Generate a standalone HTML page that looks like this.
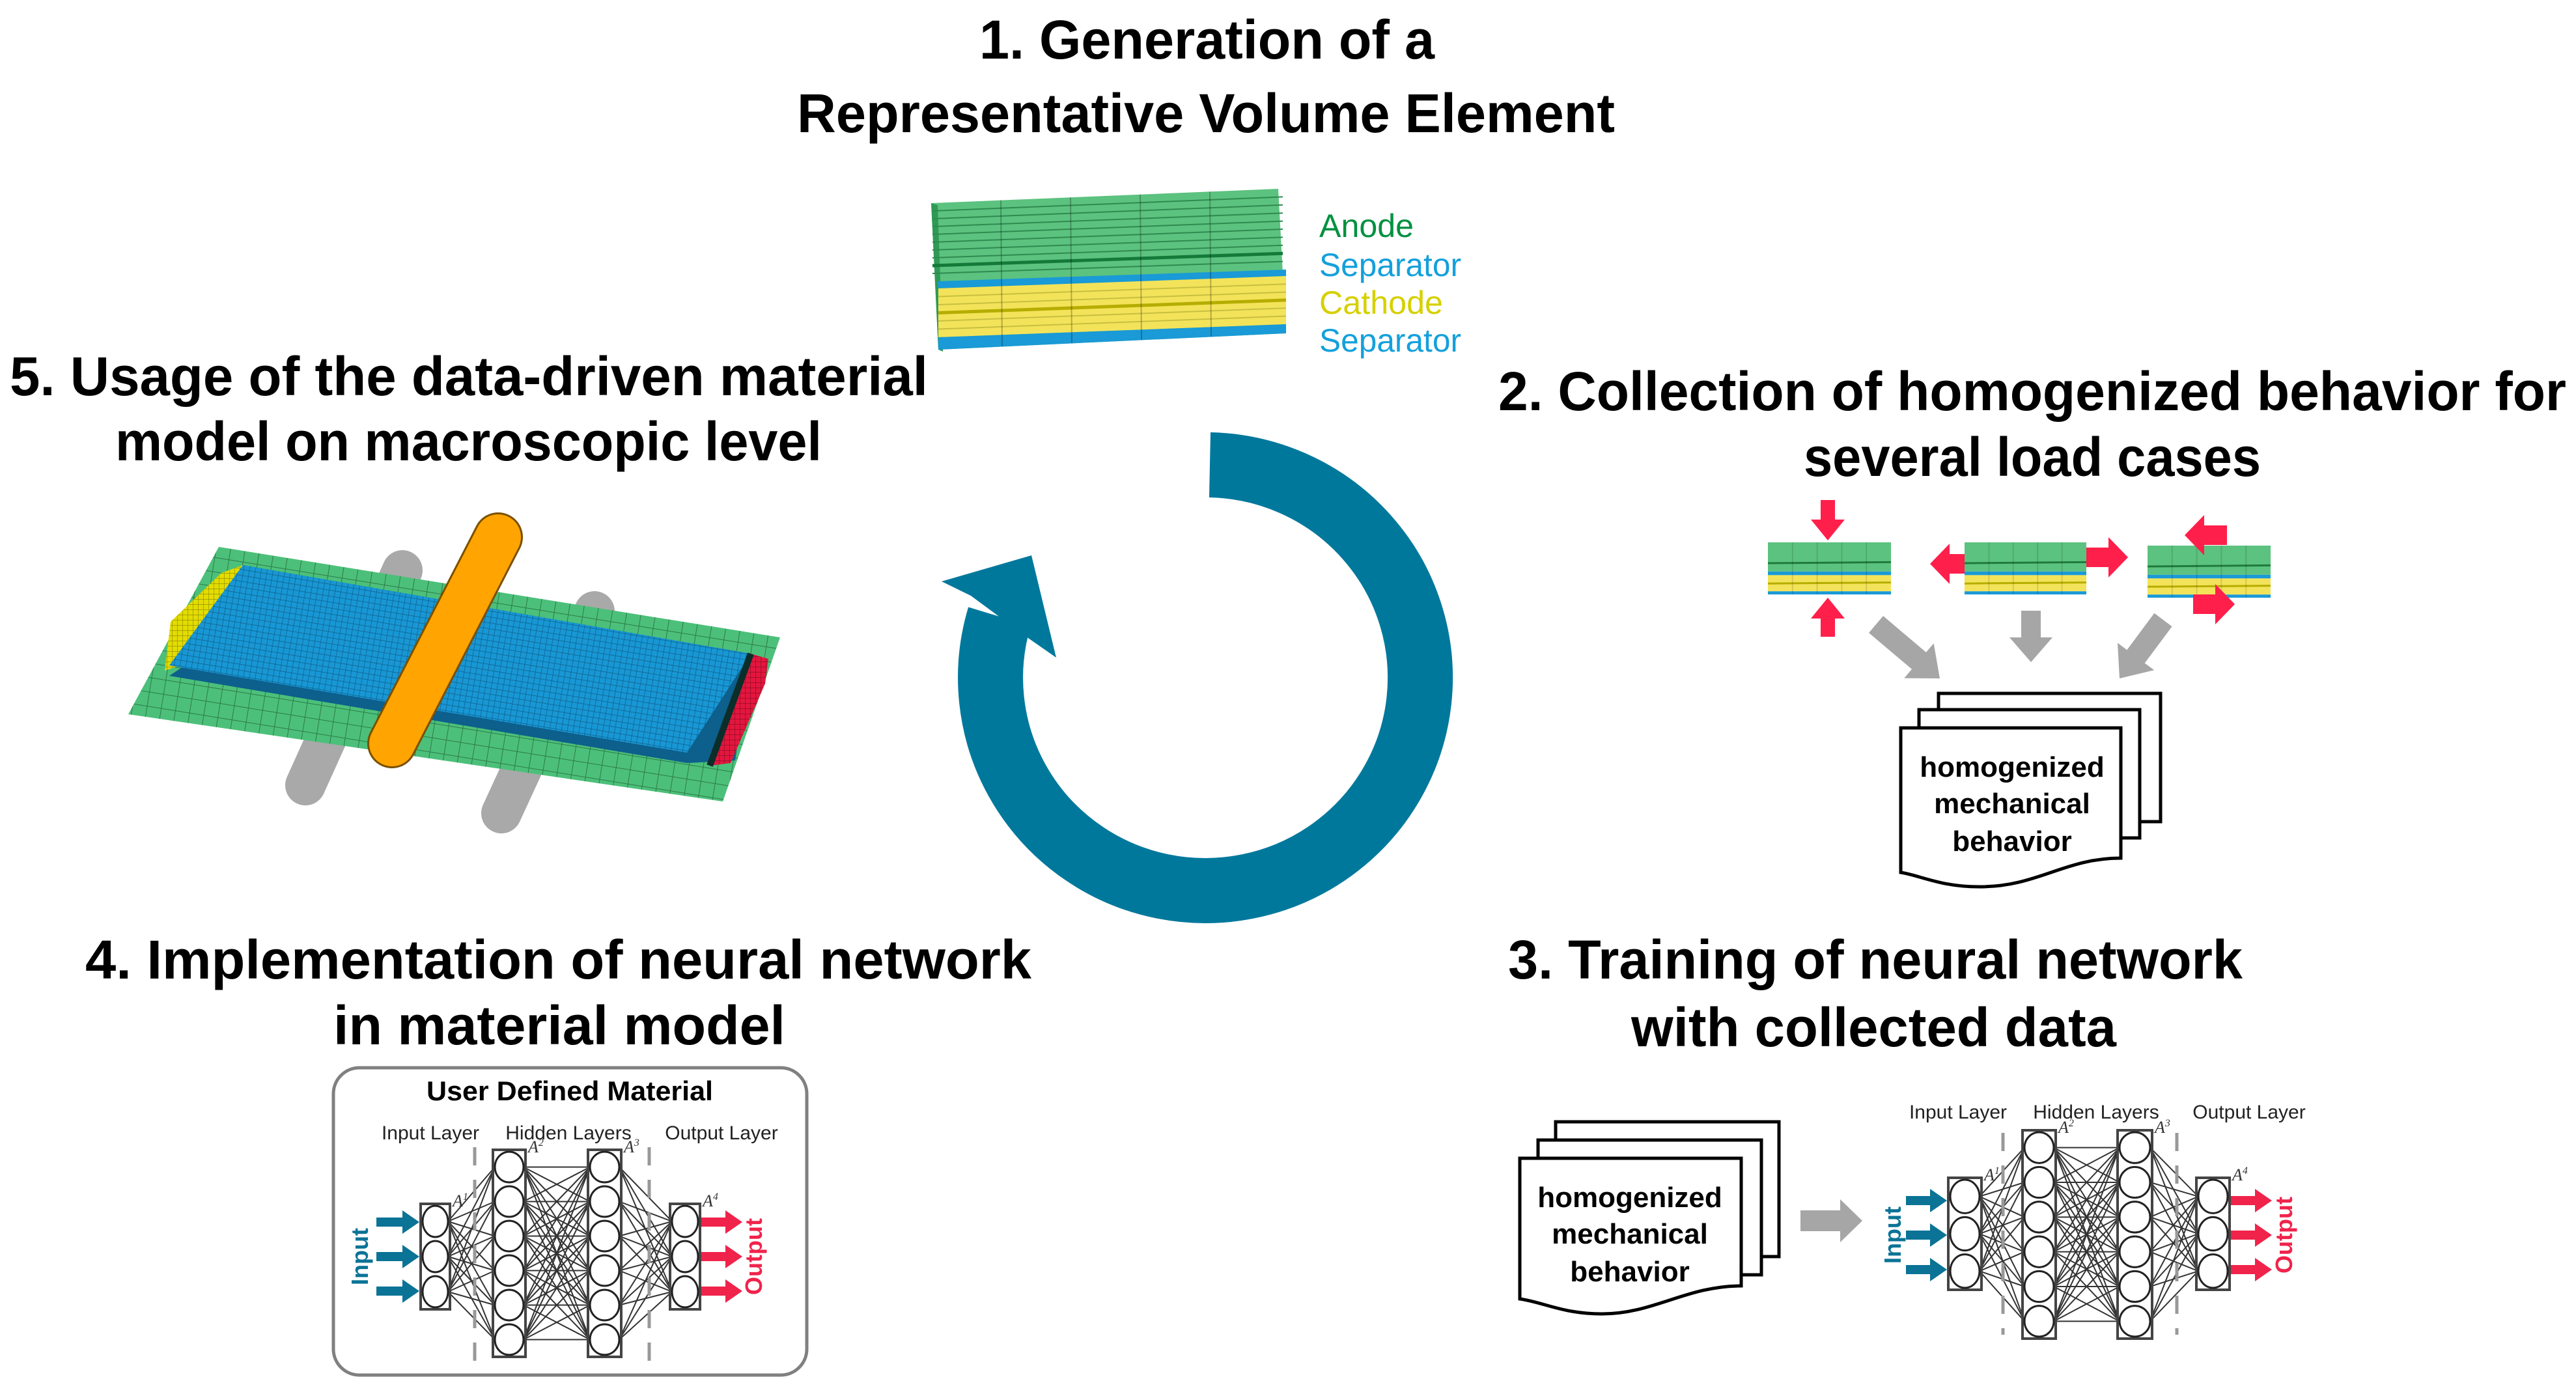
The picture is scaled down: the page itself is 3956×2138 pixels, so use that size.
<!DOCTYPE html>
<html><head><meta charset="utf-8">
<style>
html,body{margin:0;padding:0;background:#fff;}
svg{display:block;}
.t{font-family:"Liberation Sans",sans-serif;font-weight:bold;}
.s{font-family:"Liberation Sans",sans-serif;}
</style></head>
<body>
<svg id="root" width="3956" height="2138" viewBox="0 0 3956 2138" xmlns="http://www.w3.org/2000/svg">
<defs>
  <pattern id="gmesh" width="22" height="22" patternUnits="userSpaceOnUse" patternTransform="rotate(9.2)">
    <rect width="22" height="22" fill="#4cc07a"/>
    <path d="M0 0H22M0 0V22" stroke="#2d7a48" stroke-width="2"/>
  </pattern>
  <pattern id="bmesh" width="9" height="9" patternUnits="userSpaceOnUse" patternTransform="rotate(9.5)">
    <rect width="9" height="9" fill="#1897d4"/>
    <path d="M0 0H9M0 0V9" stroke="#0d5f8c" stroke-width="1.4"/>
  </pattern>
  <pattern id="ymesh" width="8" height="8" patternUnits="userSpaceOnUse">
    <rect width="8" height="8" fill="#e3dc00"/>
    <path d="M0 0H8M0 0V8" stroke="#8c8700" stroke-width="1.2"/>
  </pattern>
  <pattern id="rmesh" width="8" height="8" patternUnits="userSpaceOnUse">
    <rect width="8" height="8" fill="#e3163e"/>
    <path d="M0 0H8M0 0V8" stroke="#8a0a22" stroke-width="1.2"/>
  </pattern>
</defs>

<!-- Titles -->
<g class="t" fill="#000">
<text x="1504" y="90" font-size="84" textLength="699" lengthAdjust="spacingAndGlyphs">1. Generation of a</text>
<text x="1224" y="203" font-size="84" textLength="1256" lengthAdjust="spacingAndGlyphs">Representative Volume Element</text>
<text x="15" y="607" font-size="84" textLength="1410" lengthAdjust="spacingAndGlyphs">5. Usage of the data-driven material</text>
<text x="177" y="707" font-size="84" textLength="1085" lengthAdjust="spacingAndGlyphs">model on macroscopic level</text>
<text x="2301" y="630" font-size="84" textLength="1640" lengthAdjust="spacingAndGlyphs">2. Collection of homogenized behavior for</text>
<text x="2770" y="731" font-size="84" textLength="702" lengthAdjust="spacingAndGlyphs">several load cases</text>
<text x="131" y="1503" font-size="84" textLength="1453" lengthAdjust="spacingAndGlyphs">4. Implementation of neural network</text>
<text x="512" y="1604" font-size="84" textLength="694" lengthAdjust="spacingAndGlyphs">in material model</text>
<text x="2316" y="1503" font-size="84" textLength="1128" lengthAdjust="spacingAndGlyphs">3. Training of neural network</text>
<text x="2505" y="1607" font-size="84" textLength="745" lengthAdjust="spacingAndGlyphs">with collected data</text>
</g>

<!-- RVE block -->
<g id="rve">
  <polygon points="1430,312 1963,290 1975,512 1441,537" fill="#5cc27f"/>
  <polygon points="1430,312 1441,537 1448,540 1440,315" fill="#2f9a55"/>
  <polygon points="1440,432 1975,414 1975,424 1441,443" fill="#1a9ad6"/>
  <polygon points="1441,443 1975,424 1975,498 1441,518" fill="#f3e35a"/>
  <polygon points="1441,518 1975,498 1975,512 1441,537" fill="#1a9ad6"/>
</g>
<g id="rvelines"></g>
<text class="s" x="2026" y="364" font-size="50" fill="#009140" textLength="145" lengthAdjust="spacingAndGlyphs">Anode</text>
<text class="s" x="2026" y="424" font-size="50" fill="#14a0dc" textLength="218" lengthAdjust="spacingAndGlyphs">Separator</text>
<text class="s" x="2026" y="482" font-size="50" fill="#d6d000" textLength="190" lengthAdjust="spacingAndGlyphs">Cathode</text>
<text class="s" x="2026" y="540" font-size="50" fill="#14a0dc" textLength="218" lengthAdjust="spacingAndGlyphs">Separator</text>

<!-- Cycle arrow -->
<path d="M1858,714 A330,327 0 1 1 1535,947" fill="none" stroke="#00789c" stroke-width="100"/>
<polygon points="1446,893 1584,853 1622,1010 1579,980 1491,915" fill="#00789c"/>

<!-- Macro model -->
<g id="macro">
  <line x1="618" y1="876" x2="469" y2="1206" stroke="#a9a9a9" stroke-width="62" stroke-linecap="round"/>
  <line x1="913" y1="939" x2="770" y2="1249" stroke="#a9a9a9" stroke-width="62" stroke-linecap="round"/>
  <polygon points="336,840 1198,979 1110,1231 197,1097" fill="url(#gmesh)"/>
  <polygon points="340,880 373,868 290,1018 253,1030 262,955" fill="url(#ymesh)"/>
  <polygon points="373,868 1153,1004 1129,1168 1055,1172 260,1038 290,1018" fill="#0d5f8c"/>
  <polygon points="373,868 1153,1004 1055,1156 260,1022" fill="url(#bmesh)"/>
  <polygon points="1153,1004 1180,1012 1175,1050 1122,1172 1090,1176" fill="url(#rmesh)"/>
  <line x1="1153" y1="1004" x2="1090" y2="1176" stroke="#0b2e2a" stroke-width="10"/>
  <line x1="765" y1="825" x2="602" y2="1142" stroke="#7a5000" stroke-width="76" stroke-linecap="round"/>
  <line x1="765" y1="825" x2="602" y2="1142" stroke="#ffa400" stroke-width="70" stroke-linecap="round"/>
</g>

<!-- Load case blocks -->
<g id="loads"></g>

<!-- Document stacks -->
<g stroke="#000" stroke-width="5" fill="#fff">
  <rect x="2977" y="1065" width="341" height="197"/>
  <rect x="2947" y="1090" width="339" height="197"/>
  <path d="M2919,1118 H3257 V1318 C3170,1318 3130,1362 3040,1362 C2980,1362 2950,1345 2919,1340 Z"/>
  <rect x="2389" y="1723" width="343" height="207"/>
  <rect x="2362" y="1751" width="343" height="207"/>
  <path d="M2334,1779 H2674 V1975 C2590,1975 2540,2018 2460,2018 C2400,2018 2370,2000 2334,1995 Z"/>
</g>
<g class="t" fill="#000" font-size="44" text-anchor="middle">
  <text x="3090" y="1193">homogenized</text>
  <text x="3090" y="1249">mechanical</text>
  <text x="3090" y="1307">behavior</text>
  <text x="2503" y="1854">homogenized</text>
  <text x="2503" y="1910">mechanical</text>
  <text x="2503" y="1968">behavior</text>
</g>

<!-- UDM box -->
<rect x="512" y="1640" width="727" height="472" rx="40" fill="none" stroke="#808080" stroke-width="5"/>
<text class="t" fill="#000" x="875" y="1690" font-size="42" text-anchor="middle" textLength="440" lengthAdjust="spacingAndGlyphs">User Defined Material</text>
<g class="s" font-size="30" fill="#222" text-anchor="middle">
  <text x="661" y="1750">Input Layer</text>
  <text x="873" y="1750">Hidden Layers</text>
  <text x="1108" y="1750">Output Layer</text>
  <text x="3007" y="1718">Input Layer</text>
  <text x="3219" y="1718">Hidden Layers</text>
  <text x="3454" y="1718">Output Layer</text>
</g>
<text class="t" font-size="36" style="fill:#0a7396" transform="translate(565,1930) rotate(-90)" text-anchor="middle">Input</text>
<text class="t" font-size="36" style="fill:#f0234b" transform="translate(1170,1930) rotate(-90)" text-anchor="middle">Output</text>
<text class="t" font-size="36" style="fill:#0a7396" transform="translate(2919,1897) rotate(-90)" text-anchor="middle">Input</text>
<text class="t" font-size="36" style="fill:#f0234b" transform="translate(3520,1897) rotate(-90)" text-anchor="middle">Output</text>
<g id="nets"></g>
</svg>
<script>
var NS="http://www.w3.org/2000/svg";
function el(p,t,a){var e=document.createElementNS(NS,t);for(var k in a)e.setAttribute(k,a[k]);p.appendChild(e);return e;}
function arrow(p,x1,y1,x2,y2,sw,hw,hl,c){
  var dx=x2-x1,dy=y2-y1,L=Math.hypot(dx,dy),ux=dx/L,uy=dy/L,nx=-uy,ny=ux;
  var bx=x2-ux*hl,by=y2-uy*hl;
  var pts=[[x1+nx*sw/2,y1+ny*sw/2],[bx+nx*sw/2,by+ny*sw/2],[bx+nx*hw/2,by+ny*hw/2],[x2,y2],[bx-nx*hw/2,by-ny*hw/2],[bx-nx*sw/2,by-ny*sw/2],[x1-nx*sw/2,y1-ny*sw/2]];
  el(p,"polygon",{points:pts.map(function(q){return q[0].toFixed(1)+","+q[1].toFixed(1)}).join(" "),fill:c});
}
// RVE stripes
var rl=document.getElementById("rvelines");
for(var i=1;i<10;i++){var yl=312+i*12,yr=290+i*12.4;el(rl,"line",{x1:1432,y1:yl,x2:1970,y2:yr,stroke:i==8?"#137a3a":"#2f8a50","stroke-width":i==8?5:2});}
for(var i=1;i<6;i++){var yl=443+i*12.5,yr=424+i*12.3;el(rl,"line",{x1:1441,y1:yl,x2:1975,y2:yr,stroke:i==3?"#b5ad00":"#c8bf40","stroke-width":i==3?5:2});}
for(var i=1;i<5;i++){var x=1430+i*107;el(rl,"line",{x1:x,y1:312-i*4.4,x2:x+2,y2:537-i*5,stroke:"rgba(0,0,0,0.25)","stroke-width":2});}
var loads=document.getElementById("loads");
function block(x,y,w,h){
  var g=el(loads,"g",{});
  el(g,"rect",{x:x,y:y,width:w,height:h*0.56,fill:"#5cc27f"});
  el(g,"line",{x1:x,y1:y+h*0.4,x2:x+w,y2:y+h*0.38,stroke:"#1f7a3e","stroke-width":3});
  el(g,"rect",{x:x,y:y+h*0.56,width:w,height:h*0.07,fill:"#1a9ad6"});
  el(g,"rect",{x:x,y:y+h*0.63,width:w,height:h*0.31,fill:"#f3e35a"});
  el(g,"line",{x1:x,y1:y+h*0.79,x2:x+w,y2:y+h*0.77,stroke:"#b5ad00","stroke-width":3});
  el(g,"rect",{x:x,y:y+h*0.94,width:w,height:h*0.06,fill:"#1a9ad6"});
  for(var i=1;i<5;i++)el(g,"line",{x1:x+w*i/5,y1:y,x2:x+w*i/5,y2:y+h,stroke:"rgba(0,0,0,0.12)","stroke-width":2});
}
block(2715,833,189,80);block(3017,833,187,80);block(3298,838,189,80);
var R="#ff1f4b";
arrow(loads,2807,768,2807,830,22,52,32,R);
arrow(loads,2807,978,2807,918,22,52,32,R);
arrow(loads,3017,866,2964,866,30,62,30,R);
arrow(loads,3204,856,3268,856,30,62,30,R);
arrow(loads,3420,822,3355,822,30,62,30,R);
arrow(loads,3368,928,3432,928,30,62,30,R);
var G="#a6a6a6";
arrow(loads,2881,959,2979,1042,34,70,42,G);
arrow(loads,3119,938,3119,1017,30,66,38,G);
arrow(loads,3322,952,3255,1042,34,70,42,G);
arrow(loads,2765,1875,2860,1875,32,66,34,G);

var nets=document.getElementById("nets");
function net(o){
  var g=el(nets,"g",{});
  var cols=o.cols,cent=[];
  cols.forEach(function(c){
    var pts=[],dh=(c.y2-c.y1)/c.n;
    for(var i=0;i<c.n;i++)pts.push([(c.x1+c.x2)/2,c.y1+dh*(i+0.5),(c.x2-c.x1)/2-3,dh/2-3]);
    cent.push(pts);
  });
  for(var k=0;k<cent.length-1;k++)
    cent[k].forEach(function(a){cent[k+1].forEach(function(b){
      el(g,"line",{x1:a[0]+a[2],y1:a[1],x2:b[0]-b[2],y2:b[1],stroke:"#333","stroke-width":2});});});
  cols.forEach(function(c,k){
    el(g,"rect",{x:c.x1,y:c.y1,width:c.x2-c.x1,height:c.y2-c.y1,fill:"none",stroke:"#444","stroke-width":4});
    cent[k].forEach(function(p){el(g,"ellipse",{cx:p[0],cy:p[1],rx:p[2],ry:p[3],fill:"#fff",stroke:"#222","stroke-width":3});});
    var t=el(g,"text",{x:c.x2+4,y:c.y1+4,"font-family":"Liberation Serif,serif","font-style":"italic","font-size":26,fill:"#333"});
    t.textContent="A";
    var s=el(t,"tspan",{dy:-10,"font-size":16});s.textContent=String(k+1);
  });
  o.dash.forEach(function(x){el(g,"line",{x1:x,y1:o.dy1,x2:x,y2:o.dy2,stroke:"#999","stroke-width":5,"stroke-dasharray":"28,22"});});
  o.ay.forEach(function(y){arrow(g,o.inx1,y,o.inx2,y,14,36,26,"#0a7396");arrow(g,o.outx1,y,o.outx2,y,14,36,26,"#f0234b");});
}
net({cols:[{x1:646,x2:691,y1:1849,y2:2011,n:3},{x1:757,x2:807,y1:1766,y2:2084,n:6},{x1:903,x2:954,y1:1766,y2:2084,n:6},{x1:1029,x2:1075,y1:1849,y2:2011,n:3}],
 dash:[729,997],dy1:1762,dy2:2090,ay:[1877,1930,1983],inx1:578,inx2:644,outx1:1077,outx2:1140});
net({cols:[{x1:2992,x2:3043,y1:1809,y2:1981,n:3},{x1:3106,x2:3157,y1:1736,y2:2056,n:6},{x1:3252,x2:3305,y1:1736,y2:2056,n:6},{x1:3373,x2:3424,y1:1809,y2:1981,n:3}],
 dash:[3076,3343],dy1:1740,dy2:2050,ay:[1844,1897,1950],inx1:2927,inx2:2990,outx1:3426,outx2:3489});
</script>
</body></html>
